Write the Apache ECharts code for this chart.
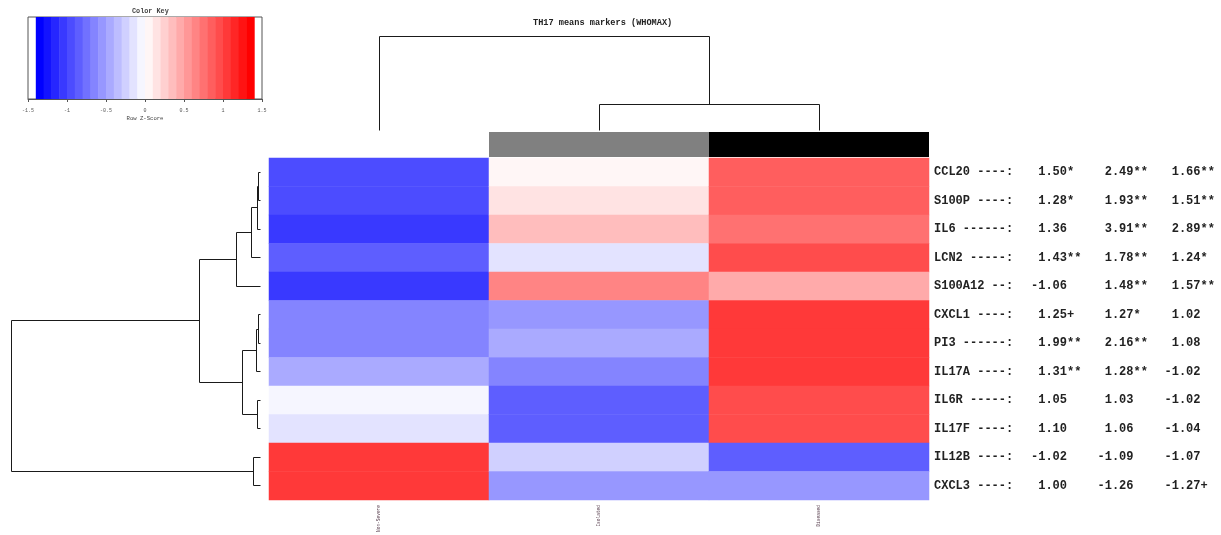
<!DOCTYPE html>
<html>
<head>
<meta charset="utf-8">
<script src="https://cdn.jsdelivr.net/npm/echarts@6/dist/echarts.min.js"></script>
<style>
  html, body { margin: 0; padding: 0; background: #ffffff; }
  #chart { width: 1221px; height: 535px; }
</style>
</head>
<body>
<div id="chart"></div>
<script>
// ---- data -------------------------------------------------------------
const genes = ['CCL20', 'S100P', 'IL6', 'LCN2', 'S100A12', 'CXCL1', 'PI3', 'IL17A', 'IL6R', 'IL17F', 'IL12B', 'CXCL3'];
const groups = ['Non-Severe', 'Isolated', 'Diseased'];
const groupClass = [0, 1, 2];

// row z-scores, one array per column
const zCol1 = [-0.95, -0.95, -1.05, -0.88, -1.05, -0.65, -0.65, -0.45, -0.05, -0.15, 1.08, 1.08];
const zCol2 = [0.05, 0.15, 0.35, -0.15, 0.65, -0.55, -0.45, -0.65, -0.85, -0.85, -0.25, -0.55];
const zCol3 = [0.85, 0.85, 0.72, 0.95, 0.45, 1.05, 1.08, 1.08, 0.95, 0.95, -0.85, -0.55];

// fold changes with significance marks shown beside each row
const fc1 = [1.50, 1.28, 1.36, 1.43, -1.06, 1.25, 1.99, 1.31, 1.05, 1.10, -1.02, 1.00];
const sig1 = ['*', '*', '', '**', '', '+', '**', '**', '', '', '', ''];
const fc2 = [2.49, 1.93, 3.91, 1.78, 1.48, 1.27, 2.16, 1.28, 1.03, 1.06, -1.09, -1.26];
const sig2 = ['**', '**', '**', '**', '**', '*', '**', '**', '', '', '', ''];
const fc3 = [1.66, 1.51, 2.89, 1.24, 1.57, 1.02, 1.08, -1.02, -1.02, -1.04, -1.07, -1.27];
const sig3 = ['**', '**', '**', '*', '**', '', '', '', '', '', '', '+'];

// hierarchical clustering (hclust style: negative = leaf in display order, positive = earlier merge)
const rowMerge = [[-1, -2], [1, -3], [2, -4], [3, -5], [-6, -7], [5, -8], [-9, -10], [6, 7], [4, 8], [-11, -12], [9, 10]];
const rowHeight = [0.025, 0.05, 0.15, 0.40, 0.03, 0.056, 0.034, 0.30, 1.02, 0.11, 4.2];
const colMerge = [[-2, -3], [-1, 1]];
const colHeight = [0.8, 3.0];

// colour key breaks
const breaks = [-1.4, -1.3, -1.2, -1.1, -1.0, -0.9, -0.8, -0.7, -0.6, -0.5, -0.4, -0.3, -0.2, -0.1, 0,
                0.1, 0.2, 0.3, 0.4, 0.5, 0.6, 0.7, 0.8, 0.9, 1.0, 1.1, 1.2, 1.3, 1.4];
const keyTicks = [-1.5, -1, -0.5, 0, 0.5, 1, 1.5];

// ---- styling helpers --------------------------------------------------
const MONO = '"Liberation Mono", "DejaVu Sans Mono", monospace';
const sideColors = ['#ffffff', '#808080', '#000000'];

// blue -> white -> red ramp with one colour per break interval
function rampColor(i, n) {
  const t = i / (n - 1);
  let r, g, b;
  if (t <= 0.5) {
    const f = t * 2;
    r = g = Math.round(255 * f); b = 255;
  } else {
    const f = (t - 0.5) * 2;
    r = 255; g = b = Math.round(255 * (1 - f));
  }
  return 'rgb(' + r + ',' + g + ',' + b + ')';
}
const nBins = breaks.length - 1;
const pieces = [];
for (let i = 0; i < nBins; i++) {
  pieces.push({ gte: breaks[i], lt: breaks[i + 1], color: rampColor(i, nBins) });
}

// heatmap cells
const zCols = [zCol1, zCol2, zCol3];
const heatData = [];
zCols.forEach((col, c) => col.forEach((z, r) => heatData.push([c, r, z])));

// dendrogram segments: [height1, pos1, height2, pos2]
function dendroSegments(merge, height) {
  const pos = [], segs = [];
  const node = (id) => id < 0 ? { p: -id - 1, h: 0 } : { p: pos[id - 1], h: height[id - 1] };
  merge.forEach((m, k) => {
    const a = node(m[0]), b = node(m[1]), h = height[k];
    segs.push([a.h, a.p, h, a.p]);
    segs.push([b.h, b.p, h, b.p]);
    segs.push([h, a.p, h, b.p]);
    pos.push((a.p + b.p) / 2);
  });
  return segs;
}
const rowSegs = dendroSegments(rowMerge, rowHeight);
const colSegs = dendroSegments(colMerge, colHeight).map(s => [s[1], s[0], s[3], s[2]]);

const crisp = (v) => Math.round(v - 0.5) + 0.5;
function segmentRender(params, api) {
  const p1 = api.coord([api.value(0), api.value(1)]);
  const p2 = api.coord([api.value(2), api.value(3)]);
  return {
    type: 'line',
    shape: { x1: crisp(p1[0]), y1: crisp(p1[1]), x2: crisp(p2[0]), y2: crisp(p2[1]) },
    style: { stroke: '#1a1a1a', lineWidth: 1 }
  };
}

function fmt(v) {
  return (v < 0 ? '-' : ' ') + Math.abs(v).toFixed(2);
}
function rowLabel(i) {
  const g = genes[i];
  return g + ' ' + '-'.repeat(9 - g.length) + ':';
}

// ---- chart ------------------------------------------------------------
const chart = echarts.init(document.getElementById('chart'), null, { renderer: 'canvas' });

const hidden = { show: false };

chart.setOption({
  animation: false,
  backgroundColor: '#ffffff',
  title: [
    {
      text: 'TH17 means markers (WHOMAX)',
      left: 528, top: 13,
      textStyle: { fontFamily: MONO, fontSize: 8.6, fontWeight: 'bold', color: '#222' }
    },
    {
      text: 'Color Key',
      left: 127, top: 3,
      textStyle: { fontFamily: MONO, fontSize: 6.8, fontWeight: 'bold', color: '#444' }
    }
  ],
  grid: [
    { left: 269, top: 158, width: 660, height: 342 },      // heatmap
    { left: 269, top: 132, width: 660, height: 25 },       // column side colours
    { left: 269, top: 36, width: 660, height: 94 },        // column dendrogram
    { left: 11, top: 158, width: 249, height: 342 },       // row dendrogram
    { left: 28, top: 17, width: 234, height: 82, show: true, borderColor: '#555', borderWidth: 1, backgroundColor: 'transparent' } // colour key
  ],
  xAxis: [
    {
      type: 'category', gridIndex: 0, data: groups, position: 'bottom',
      axisLine: hidden, axisTick: hidden, splitLine: hidden,
      axisLabel: { rotate: 90, fontSize: 4.5, fontFamily: MONO, color: '#5a4050', margin: 5 }
    },
    { type: 'category', gridIndex: 1, data: groups, show: false },
    { type: 'value', gridIndex: 2, min: -0.5, max: 2.5, show: false },
    { type: 'value', gridIndex: 3, min: 0, max: rowHeight[rowHeight.length - 1], inverse: true, show: false },
    {
      type: 'value', gridIndex: 4, min: -1.5, max: 1.5, interval: 0.5,
      axisLine: { show: true, onZero: false, lineStyle: { color: '#555', width: 1 } },
      axisTick: { show: true, length: 3, lineStyle: { color: '#555' } },
      splitLine: hidden,
      axisLabel: {
        fontSize: 5, fontFamily: MONO, color: '#555', margin: 9,
        formatter: (v) => keyTicks.indexOf(v) >= 0 ? String(v) : ''
      },
      name: 'Row Z-Score', nameLocation: 'middle', nameGap: 17,
      nameTextStyle: { fontSize: 5.6, fontFamily: MONO, color: '#444' }
    }
  ],
  yAxis: [
    {
      type: 'category', gridIndex: 0, data: genes, inverse: true, position: 'right',
      axisLine: hidden, axisTick: hidden, splitLine: hidden,
      axisLabel: {
        margin: 5, align: 'left',
        fontFamily: MONO, fontSize: 12, fontWeight: 'bold', color: '#222',
        formatter: (v, i) =>
          '{n|' + rowLabel(i) + '}' +
          '{a|' + fmt(fc1[i]) + sig1[i] + '}' +
          '{b|' + fmt(fc2[i]) + sig2[i] + '}' +
          '{c|' + fmt(fc3[i]) + sig3[i] + '}',
        rich: {
          n: { width: 97, fontFamily: MONO, fontSize: 12, fontWeight: 'bold', color: '#222' },
          a: { width: 66.5, fontFamily: MONO, fontSize: 12, fontWeight: 'bold', color: '#222' },
          b: { width: 67, fontFamily: MONO, fontSize: 12, fontWeight: 'bold', color: '#222' },
          c: { fontFamily: MONO, fontSize: 12, fontWeight: 'bold', color: '#222' }
        }
      }
    },
    { type: 'category', gridIndex: 1, data: ['side'], show: false },
    { type: 'value', gridIndex: 2, min: 0, max: colHeight[colHeight.length - 1], show: false },
    { type: 'value', gridIndex: 3, min: -0.5, max: genes.length - 0.5, inverse: true, show: false },
    { type: 'value', gridIndex: 4, min: 0, max: 1, show: false }
  ],
  visualMap: [{
    type: 'piecewise', show: false, seriesIndex: 0, dimension: 2, pieces: pieces
  }],
  series: [
    {
      type: 'heatmap', xAxisIndex: 0, yAxisIndex: 0, data: heatData,
      itemStyle: { borderWidth: 0 }, emphasis: { disabled: true }, progressive: 0
    },
    {
      type: 'custom', xAxisIndex: 1, yAxisIndex: 1,
      data: groupClass.map((g, i) => [i, 0, g]),
      renderItem: (params, api) => {
        const c = api.coord([api.value(0), api.value(1)]);
        const s = api.size([1, 1]);
        return {
          type: 'rect',
          shape: { x: c[0] - s[0] / 2, y: c[1] - s[1] / 2, width: s[0], height: s[1] },
          style: { fill: sideColors[api.value(2)] }
        };
      }
    },
    { type: 'custom', xAxisIndex: 2, yAxisIndex: 2, data: colSegs, renderItem: segmentRender, silent: true },
    { type: 'custom', xAxisIndex: 3, yAxisIndex: 3, data: rowSegs, renderItem: segmentRender, silent: true },
    {
      type: 'custom', xAxisIndex: 4, yAxisIndex: 4,
      data: pieces.map((p) => [p.gte, p.lt]),
      renderItem: (params, api) => {
        const p1 = api.coord([api.value(0), 1]);
        const p2 = api.coord([api.value(1), 0]);
        return {
          type: 'rect',
          shape: { x: p1[0], y: p1[1], width: p2[0] - p1[0] + 0.5, height: p2[1] - p1[1] },
          style: { fill: pieces[params.dataIndex].color }
        };
      },
      silent: true
    }
  ]
});
</script>
</body>
</html>
